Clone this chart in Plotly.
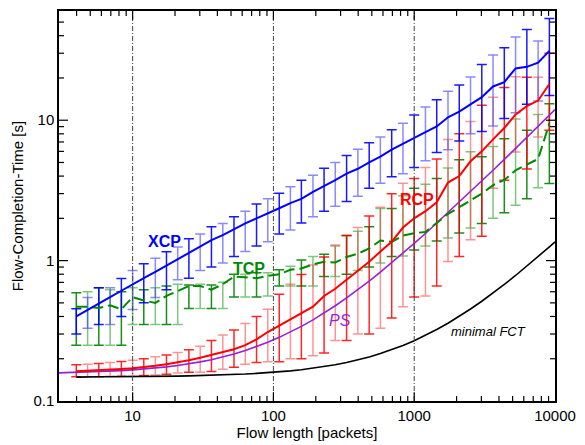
import plotly.graph_objects as go

# Flow lengths (packets) at which the protocols were measured
flow_len = [3.98, 4.79, 5.75, 6.92, 8.32, 10.0, 12.0, 14.5, 17.4, 20.9, 25.1,
            30.2, 36.3, 43.7, 52.5, 63.1, 75.9, 91.2, 110, 132, 158, 191, 229,
            275, 331, 398, 479, 575, 692, 832, 1000, 1202, 1445, 1738, 2089,
            2512, 3020, 3631, 4365, 5248, 6310, 7586, 9120]

# XCP: mean flow-completion time and error-bar bounds [s]
xcp_mean = [0.40, 0.447, 0.495, 0.55, 0.61, 0.68, 0.75, 0.83, 0.92, 1.02, 1.13,
            1.26, 1.40, 1.52, 1.68, 1.84, 2.0, 2.16, 2.36, 2.57, 2.75, 3.09,
            3.39, 3.74, 4.17, 4.51, 5.01, 5.50, 6.17, 6.76, 7.50, 8.22, 9.02,
            10.5, 11.5, 13.0, 14.6, 17.4, 18.7, 23.4, 24.0, 25.7, 31.2]
xcp_lo = [0.30, 0.33, 0.35, 0.35, 0.40, 0.449, 0.50, 0.546, 0.62, 0.73, 0.75,
          0.85, 0.90, 0.96, 1.07, 1.16, 1.27, 1.36, 1.55, 1.65, 1.85, 2.05,
          2.25, 2.44, 2.64, 2.87, 3.27, 3.55, 3.95, 4.16, 4.6, 5.15, 5.9,
          6.15, 7.1, 8.0, 8.3, 9.1, 10.3, 11.3, 13.0, 13.7, 15.0]
xcp_hi = [0.454, 0.546, 0.64, 0.64, 0.746, 0.85, 0.95, 1.04, 1.155, 1.25, 1.43,
          1.55, 1.74, 1.84, 2.05, 2.25, 2.53, 2.76, 3.02, 3.36, 3.74, 4.05,
          4.55, 5.0, 5.6, 6.2, 6.9, 7.6, 8.56, 9.5, 10.9, 12.4, 14.0, 16.1,
          17.8, 20.3, 24.9, 29.2, 32.8, 39.2, 44.2, 36.6, 53.0]

# TCP
tcp_mean = [0.47, 0.47, 0.46, 0.48, 0.45, 0.55, 0.52, 0.50, 0.56, 0.61, 0.66,
            0.66, 0.62, 0.68, 0.77, 0.76, 0.75, 0.78, 0.80, 0.86, 0.88, 0.94,
            0.98, 0.97, 1.06, 1.12, 1.22, 1.39, 1.36, 1.51, 1.57, 1.60, 1.85,
            2.15, 2.40, 2.70, 3.0, 3.45, 3.75, 4.4, 4.8, 5.3, 9.5]
tcp_lo = [0.25, 0.25, 0.25, 0.25, 0.25, 0.35, 0.35, 0.35, 0.35, 0.35, 0.455,
          0.455, 0.455, 0.455, 0.55, 0.55, 0.55, 0.56, 0.66, 0.66, 0.66, 0.66,
          0.77, 0.77, 0.80, 0.85, 0.90, 0.96, 1.07, 1.08, 1.19, 1.27, 1.38,
          1.45, 1.57, 1.71, 1.84, 2.0, 2.19, 2.48, 2.76, 3.31, 3.54]
tcp_hi = [0.59, 0.60, 0.64, 0.62, 0.60, 0.64, 0.62, 0.64, 0.66, 0.68, 0.67,
          0.68, 0.67, 0.70, 0.80, 0.80, 0.82, 0.82, 0.86, 0.91, 1.01, 1.07,
          1.11, 1.27, 1.51, 1.62, 1.74, 2.35, 2.35, 2.9, 3.27, 3.5, 3.84,
          4.56, 5.23, 5.96, 5.5, 6.5, 7.37, 10.2, 8.5, 11.0, 13.1]

# RCP
rcp_mean = [0.163, 0.164, 0.165, 0.167, 0.169, 0.171, 0.174, 0.178, 0.183,
            0.188, 0.195, 0.203, 0.212, 0.222, 0.234, 0.250, 0.275, 0.310,
            0.345, 0.38, 0.42, 0.47, 0.56, 0.63, 0.73, 0.84, 0.98, 1.16, 1.36,
            1.72, 2.0, 2.25, 2.6, 3.6, 4.0, 5.1, 6.0, 7.3, 8.8, 11.0, 12.6,
            13.8, 18.1]
rcp_lo = [0.149, 0.149, 0.149, 0.150, 0.150, 0.150, 0.152, 0.153, 0.155,
          0.158, 0.160, 0.160, 0.162, 0.168, 0.174, 0.183, 0.188, 0.19, 0.19,
          0.20, 0.20, 0.21, 0.22, 0.27, 0.27, 0.30, 0.30, 0.33, 0.39, 0.47,
          0.55, 0.56, 0.66, 0.985, 1.07, 1.41, 1.49, 3.27, 3.73, 5.95, 4.5,
          7.6, 8.5]
rcp_hi = [0.181, 0.183, 0.185, 0.188, 0.191, 0.195, 0.200, 0.207, 0.213,
          0.222, 0.232, 0.245, 0.27, 0.295, 0.32, 0.357, 0.40, 0.45, 0.577,
          0.68, 0.795, 0.93, 1.06, 1.29, 1.51, 1.72, 2.08, 2.4, 3.0, 3.55,
          3.84, 4.6, 5.3, 7.3, 8.0, 9.8, 12.8, 14.6, 17.1, 20.4, 20.2, 20.2,
          30.0]

# Processor sharing and minimal FCT reference curves
ps_len = [3, 3.98, 4.79, 5.75, 6.92, 8.32, 10.0, 12.0, 14.5, 17.4, 20.9, 25.1,
          30.2, 36.3, 43.7, 52.5, 63.1, 75.9, 91.2, 110, 132, 158, 191, 229,
          275, 331, 398, 479, 575, 692, 832, 1000, 1202, 1445, 1738, 2089,
          2512, 3020, 3631, 4365, 5248, 6310, 7586, 9120, 10000]
ps_fct = [0.1585, 0.1597, 0.1606, 0.1617, 0.1631, 0.1647, 0.1667, 0.169,
          0.172, 0.175, 0.179, 0.184, 0.190, 0.197, 0.206, 0.216, 0.229,
          0.244, 0.262, 0.284, 0.309, 0.340, 0.378, 0.423, 0.477, 0.542,
          0.621, 0.715, 0.828, 0.965, 1.128, 1.325, 1.56, 1.85, 2.19, 2.60,
          3.09, 3.69, 4.40, 5.26, 6.29, 7.54, 9.03, 10.8, 11.9]
min_len = ps_len[1:]
min_fct = [0.148, 0.149, 0.149, 0.149, 0.149, 0.149, 0.1495, 0.150, 0.150,
           0.1505, 0.151, 0.1517, 0.1524, 0.1533, 0.1544, 0.1556, 0.1572,
           0.159, 0.1613, 0.164, 0.1671, 0.1711, 0.1757, 0.1813, 0.188,
           0.1962, 0.206, 0.2176, 0.2317, 0.2487, 0.269, 0.2934, 0.3228,
           0.3583, 0.4008, 0.452, 0.5134, 0.5874, 0.6764, 0.7834, 0.9123,
           1.067, 1.252, 1.358]

decade_marks = [10, 100, 1000]
x_major = [10, 100, 1000, 10000]
x_major_text = ["10", "100", "1000", "10000"]
y_major = [0.1, 1, 10]
y_major_text = ["0.1", "1", "10"]
x_minor = [m * d for d in (1, 10, 100, 1000) for m in range(2, 10)]
y_minor = [m * d for d in (0.1, 1, 10) for m in range(2, 10)]

X_MIN, X_MAX = 3.0, 10000.0
Y_MIN, Y_MAX = 0.1, 59.9
W, H = 585, 445
M_L, M_R, M_T, M_B = 59, 29, 9, 37
PLOT_W = W - M_L - M_R
PLOT_H = H - M_T - M_B

fig = go.Figure()


def add_bars(mean, lo, hi, dark, light):
    # alternate dark / light error bars along the series
    for parity, col in ((0, dark), (1, light)):
        idx = [i for i in range(len(flow_len)) if i % 2 == parity]
        fig.add_trace(go.Scatter(
            x=[flow_len[i] for i in idx],
            y=[mean[i] for i in idx],
            mode="markers",
            marker=dict(size=1, color="rgba(0,0,0,0)"),
            error_y=dict(type="data", symmetric=False,
                         array=[hi[i] - mean[i] for i in idx],
                         arrayminus=[mean[i] - lo[i] for i in idx],
                         color=col, thickness=1.5, width=5),
            hoverinfo="skip", showlegend=False))


add_bars(tcp_mean, tcp_lo, tcp_hi, "rgba(0,130,0,0.9)", "rgba(40,160,40,0.6)")
add_bars(rcp_mean, rcp_lo, rcp_hi, "rgba(255,0,0,0.85)", "rgba(255,60,60,0.55)")
add_bars(xcp_mean, xcp_lo, xcp_hi, "rgba(0,0,255,0.9)", "rgba(60,60,255,0.6)")

fig.add_trace(go.Scatter(x=min_len, y=min_fct, mode="lines",
                         line=dict(color="black", width=1.6), showlegend=False))
fig.add_trace(go.Scatter(x=ps_len, y=ps_fct, mode="lines",
                         line=dict(color="#9a1fd6", width=1.6), showlegend=False))
fig.add_trace(go.Scatter(x=flow_len, y=tcp_mean, mode="lines",
                         line=dict(color="#008a00", width=2, dash="11px,5px"),
                         showlegend=False))
fig.add_trace(go.Scatter(x=flow_len, y=rcp_mean, mode="lines",
                         line=dict(color="#ff0000", width=2), showlegend=False))
fig.add_trace(go.Scatter(x=flow_len, y=xcp_mean, mode="lines",
                         line=dict(color="#0000ff", width=2), showlegend=False))

# dash-dot guides at each decade of flow length
for xv in decade_marks:
    fig.add_shape(type="line", xref="x", yref="paper", x0=xv, x1=xv, y0=0, y1=1,
                  line=dict(color="#444", width=1, dash="5px,2px,1px,2px"))

# inward tick marks on all four sides of the frame
tick_line = dict(color="black", width=1.2)
for vals, length in ((x_major, 9), (x_minor, 5)):
    f = length / PLOT_H
    for v in vals:
        if X_MIN < v < X_MAX:
            fig.add_shape(type="line", xref="x", yref="paper", x0=v, x1=v,
                          y0=0, y1=f, line=tick_line)
            fig.add_shape(type="line", xref="x", yref="paper", x0=v, x1=v,
                          y0=1 - f, y1=1, line=tick_line)
for vals, length in ((y_major, 9), (y_minor, 5)):
    f = length / PLOT_W
    for v in vals:
        if Y_MIN < v < Y_MAX:
            fig.add_shape(type="line", xref="paper", yref="y", x0=0, x1=f,
                          y0=v, y1=v, line=tick_line)
            fig.add_shape(type="line", xref="paper", yref="y", x0=1 - f, x1=1,
                          y0=v, y1=v, line=tick_line)

labels = [
    ("XCP", 1.227, 0.139, "#0000ff", "bold", "normal"),
    ("TCP", 1.83, -0.056, "#008a00", "bold", "normal"),
    ("RCP", 3.02, 0.435, "#ff0000", "bold", "normal"),
    ("PS", 2.475, -0.424, "#9a1fd6", "normal", "italic"),
    ("minimal FCT", 3.525, -0.508, "black", "normal", "italic"),
]
for txt, lx, ly, col, weight, style in labels:
    fig.add_annotation(x=lx, y=ly, xref="x", yref="y", text=txt, showarrow=False,
                       font=dict(family="Liberation Sans, Arial", color=col,
                                 size=13 if txt == "minimal FCT" else 16,
                                 weight=weight, style=style))

axis_common = dict(
    type="log", showgrid=False, zeroline=False, showline=True,
    linecolor="black", linewidth=1.5, mirror=True, ticks="",
    tickfont=dict(family="Liberation Sans, Arial", size=15, color="black"),
)
font_title = dict(family="Liberation Sans, Arial", size=15, color="black")

fig.update_xaxes(**axis_common, range=[0.4771, 4.0],
                 tickmode="array", tickvals=x_major, ticktext=x_major_text,
                 title=dict(text="Flow length [packets]", standoff=2,
                            font=font_title))
fig.update_yaxes(**axis_common, range=[-1.0, 1.778],
                 tickmode="array", tickvals=y_major, ticktext=y_major_text,
                 title=dict(text="Flow-Completion-Time [s]", standoff=6,
                            font=font_title))

fig.update_layout(width=W, height=H,
                  margin=dict(l=M_L, r=M_R, t=M_T, b=M_B),
                  plot_bgcolor="white", paper_bgcolor="white")

fig.write_html("out.html")
